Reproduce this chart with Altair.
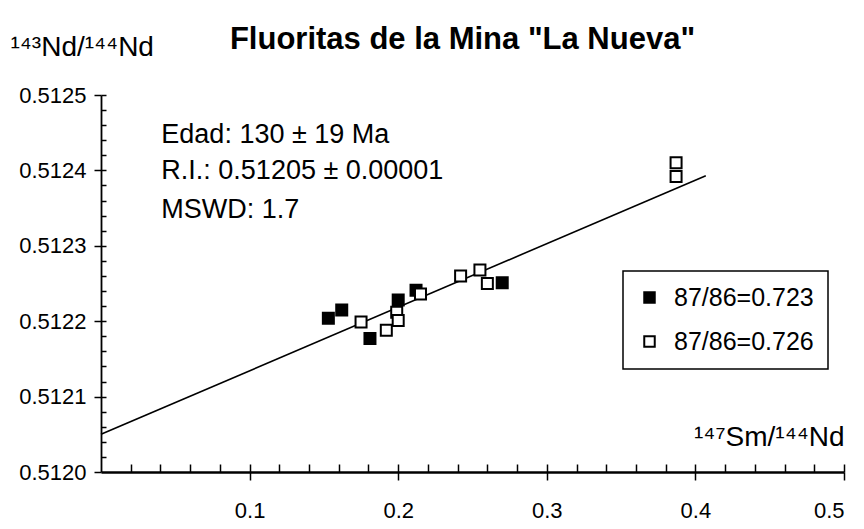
import altair as alt
import pandas as pd

FONT = "Liberation Sans"
W, H = 743, 377

# ---- data ----
series_labels = ["87/86=0.723", "87/86=0.726"]
filled_x = [0.153, 0.162, 0.181, 0.200, 0.212, 0.270]
filled_y = [0.512204, 0.512215, 0.512177, 0.512228, 0.512241, 0.512251]
open_x = [0.175, 0.192, 0.199, 0.200, 0.215, 0.242, 0.255, 0.260, 0.387, 0.387]
open_y = [0.512199, 0.512188, 0.512212, 0.512201, 0.512236, 0.512260, 0.512268,
          0.512250, 0.512392, 0.512410]

fit_x = [0.0, 0.407]
fit_y = [0.51205, 0.512393]

x_major = [0.1, 0.2, 0.3, 0.4, 0.5]
x_minor = [0.02, 0.04, 0.06, 0.08, 0.1, 0.12, 0.14, 0.16, 0.18, 0.2, 0.22, 0.24,
           0.26, 0.28, 0.3, 0.32, 0.34, 0.36, 0.38, 0.4, 0.42, 0.44, 0.46, 0.48, 0.5]
y_major = [0.5120, 0.5121, 0.5122, 0.5123, 0.5124, 0.5125]
y_minor = [0.51202, 0.51204, 0.51206, 0.51208, 0.5121, 0.51212, 0.51214, 0.51216,
           0.51218, 0.5122, 0.51222, 0.51224, 0.51226, 0.51228, 0.5123, 0.51232,
           0.51234, 0.51236, 0.51238, 0.5124, 0.51242, 0.51244, 0.51246, 0.51248,
           0.5125]

ann_text = ["Edad: 130 \u00b1 19 Ma", "R.I.: 0.51205 \u00b1 0.00001", "MSWD: 1.7"]
ann_x = [0.0406, 0.0406, 0.0406]
ann_y = [0.512437, 0.512389, 0.512337]

title_text = 'Fluoritas de la Mina "La Nueva"'
x_title = "\u00b9\u2074\u2077Sm/\u00b9\u2074\u2074Nd"
y_title = "\u00b9\u2074\u00b3Nd/\u00b9\u2074\u2074Nd"

# ---- tables ----
pts = pd.DataFrame({
    "x": filled_x + open_x,
    "y": filled_y + open_y,
    "serie": [series_labels[0]] * len(filled_x) + [series_labels[1]] * len(open_x),
})
fit_df = pd.DataFrame({"x": fit_x, "y": fit_y})
ann_df = pd.DataFrame({"x": ann_x, "y": ann_y, "t": ann_text})

xscale = alt.Scale(domain=[0, 0.5], nice=False, zero=False)
yscale = alt.Scale(domain=[0.5120, 0.5125], nice=False, zero=False)

fit = alt.Chart(fit_df).mark_line(color="black", strokeWidth=1.6).encode(
    x=alt.X("x:Q", scale=xscale,
            axis=alt.Axis(orient="top", offset=-H, values=x_minor, labels=False,
                          domain=False, tickSize=8, tickWidth=1.5, tickColor="black",
                          grid=False, title=None)),
    y=alt.Y("y:Q", scale=yscale,
            axis=alt.Axis(orient="right", offset=-W, values=y_minor, labels=False,
                          domain=False, tickSize=5, tickWidth=1.5, tickColor="black",
                          grid=False, title=None)),
)

points = alt.Chart(pts).mark_point(
    shape="square", filled=True, size=121, stroke="black", strokeWidth=2, opacity=1
).encode(
    x=alt.X("x:Q", scale=xscale,
            axis=alt.Axis(orient="bottom", values=x_major, format=".1f", tickSize=8,
                          tickWidth=1.5, tickColor="black", domainWidth=2.5,
                          domainColor="black", labelFont=FONT, labelFontSize=22,
                          labelColor="black", labelPadding=20, grid=False,
                          title=x_title, titleFont=FONT, titleFontSize=28,
                          titleFontWeight="normal", titleColor="black",
                          titleAlign="right", titleBaseline="alphabetic",
                          titleX=W, titleY=-27)),
    y=alt.Y("y:Q", scale=yscale,
            axis=alt.Axis(orient="left", values=y_major, format=".4f", tickSize=7,
                          tickWidth=1.5, tickColor="black", domainWidth=1.8,
                          domainColor="black", labelFont=FONT, labelFontSize=22,
                          labelColor="black", labelPadding=8, grid=False,
                          title=y_title, titleFont=FONT, titleFontSize=28,
                          titleFontWeight="normal", titleColor="black",
                          titleAngle=0, titleAlign="left", titleBaseline="alphabetic",
                          titleX=-91, titleY=-40)),
    fill=alt.Fill("serie:N",
                  scale=alt.Scale(domain=series_labels, range=["black", "white"]),
                  legend=alt.Legend(title=None, orient="none", legendX=522, legendY=176,
                                    symbolType="square", symbolSize=110,
                                    symbolStrokeColor="black", symbolStrokeWidth=2,
                                    labelFont=FONT, labelFontSize=25, labelColor="black",
                                    labelOffset=12, padding=14, rowPadding=18,
                                    strokeColor="black", fillColor="white")),
)

ann = alt.Chart(ann_df).mark_text(
    align="left", baseline="alphabetic", font=FONT, fontSize=27, color="black"
).encode(
    x=alt.X("x:Q", scale=xscale, axis=None),
    y=alt.Y("y:Q", scale=yscale, axis=None),
    text="t:N",
)

chart = alt.layer(fit, points, ann).resolve_axis(
    x="independent", y="independent"
).properties(
    width=W, height=H,
    autosize=alt.AutoSizeParams(type="none"),
    padding={"left": 93, "top": 87, "right": 12, "bottom": 49},
    title=alt.TitleParams(title_text, font=FONT, fontSize=31, fontWeight="bold",
                          color="black", anchor="middle", dx=-10, dy=33, offset=10),
).configure_view(stroke=None).configure_legend(strokeWidth=1.5)

chart.save("out.html", embed_options={"renderer": "svg", "actions": False})
